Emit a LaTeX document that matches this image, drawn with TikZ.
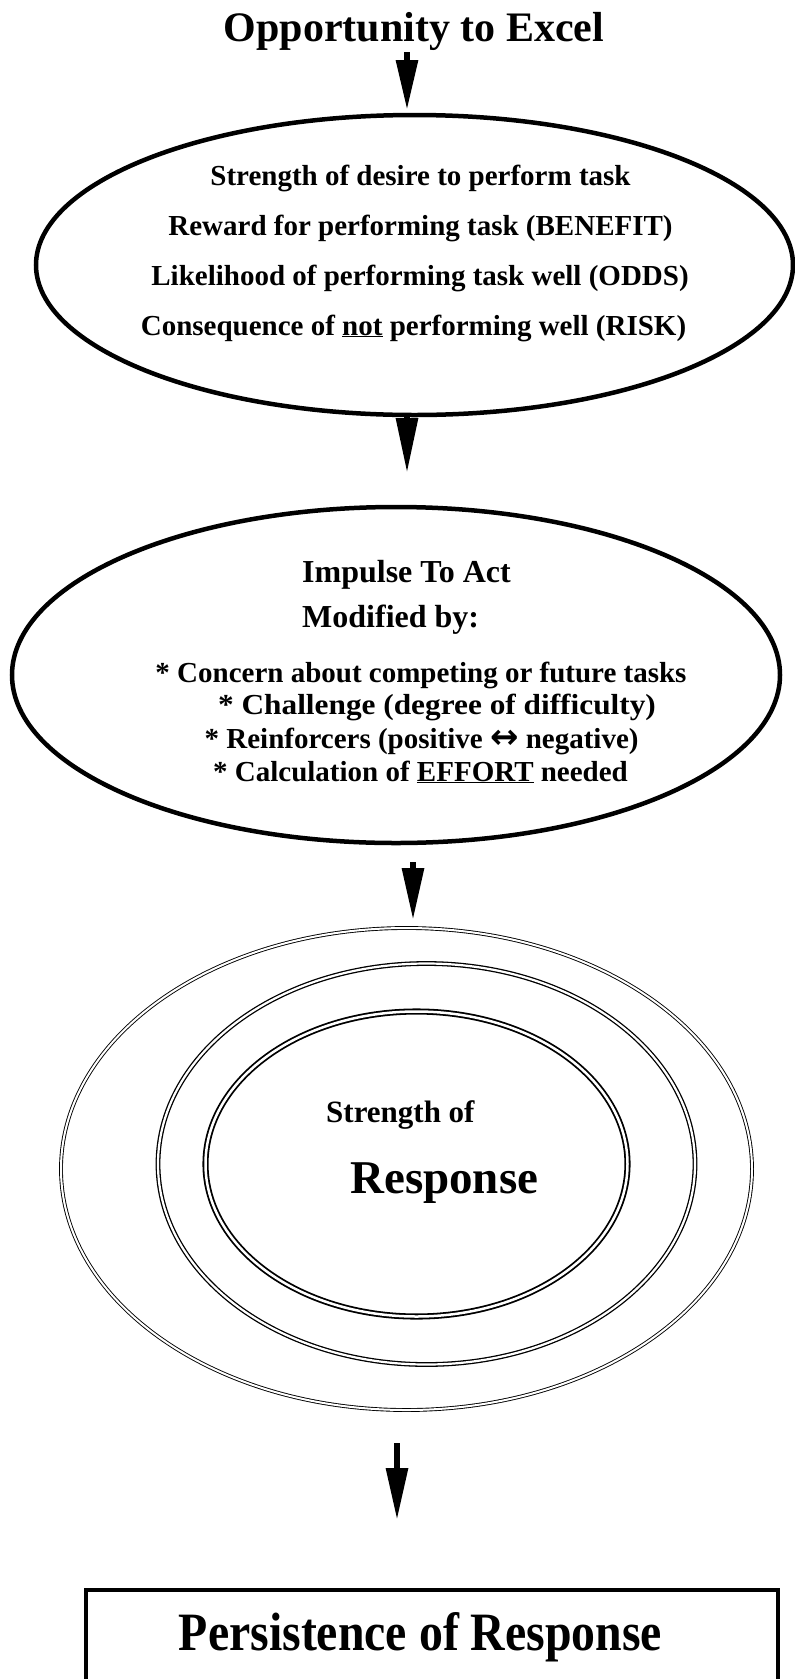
\documentclass[tikz,border=0pt]{standalone}
\usepackage{fontspec}
\setmainfont{Liberation Serif}
\newfontfamily\symf{DejaVu Sans}
\usetikzlibrary{arrows.meta,shapes.geometric}
\tikzset{
  bigell/.style={draw, ellipse, line width=4.5pt, inner sep=0pt},
  dbl/.style={draw, ellipse, inner sep=0pt, double, double distance=#1},
  txt/.style={anchor=base, inner sep=0pt, font=\bfseries\fontsize{29}{34}\selectfont},
  txtl/.style={anchor=base west, inner sep=0pt},
  arr/.style={line width=6pt, -{Triangle[length=#1,width=21pt]}},
}
\begin{document}
\begin{tikzpicture}[x=1pt,y=-1pt]
\useasboundingbox (0,0) rectangle (795,1679);
% title
\node[anchor=base, inner sep=0pt, font=\bfseries\fontsize{42}{48}\selectfont] (title) at (414,41) {Opportunity to Excel};
% ellipse 1
\node[bigell, minimum width=757pt, minimum height=300pt] (e1) at (414.5,265) {};
\node[txt] (l11) at (420.5,185) {Strength of desire to perform task};
\node[txt] (l12) at (420.5,235) {Reward for performing task (BENEFIT)};
\node[txt] (l13) at (420,285) {Likelihood of performing task well (ODDS)};
\node[txt] (l14) at (413.5,335) {Consequence of \underline{not} performing well (RISK)};
% ellipse 2
\node[bigell, minimum width=768pt, minimum height=336pt] (e2) at (396,675) {};
\node[txtl, font=\bfseries\fontsize{32}{38}\selectfont] (l21) at (302,582) {Impulse To Act};
\node[txtl, font=\bfseries\fontsize{32}{38}\selectfont] (l22) at (302,627) {Modified by:};
\node[txt] (l23) at (421,682) {* Concern about competing or future tasks};
\node[txt, xscale=1.08] (l24) at (437,714) {* Challenge (degree of difficulty)};
\node[txt] (l25) at (421.6,748) {* Reinforcers (positive {\symf\fontsize{34}{36}\selectfont ↔} negative)};
\node[txt] (l26) at (420.5,781) {* Calculation of \underline{EFFORT} needed};
% concentric ellipses
\node[dbl=2pt, line width=0.9pt, minimum width=691pt, minimum height=482pt] (o1) at (406.5,1169) {};
\node[dbl=2.2pt, line width=1.3pt, minimum width=537pt, minimum height=401pt] (o2) at (426.5,1164) {};
\node[dbl=2.5pt, line width=1.8pt, minimum width=422pt, minimum height=305pt] (o3) at (416.5,1164) {};
\node[txtl, font=\bfseries\fontsize{31}{36}\selectfont] (s1) at (326,1122) {Strength of};
\node[txtl, font=\bfseries\fontsize{47}{54}\selectfont] (s2) at (350,1193) {Response};
% box
\node[draw, line width=4pt, minimum width=692pt, minimum height=140pt, anchor=north west, inner sep=0pt] (box) at (84,1588) {};
\node[anchor=base, inner sep=0pt, xscale=0.885, font=\bfseries\fontsize{54}{62}\selectfont] (bt) at (420.5,1650) {Persistence of Response};
% arrows
\coordinate (a1s) at (407,52);
\coordinate (a1e) at (407,110);
\draw[arr=50pt] (a1s) -- (a1e);
\coordinate (a2s) at (407,416);
\coordinate (a2e) at (407,473);
\draw[arr=55pt] (a2s) -- (a2e);
\coordinate (a3s) at (413,862);
\coordinate (a3e) at (413,920);
\draw[arr=52pt] (a3s) -- (a3e);
\coordinate (a4s) at (397,1443);
\coordinate (a4e) at (397,1520);
\draw[arr=52pt] (a4s) -- (a4e);
\end{tikzpicture}
\end{document}
